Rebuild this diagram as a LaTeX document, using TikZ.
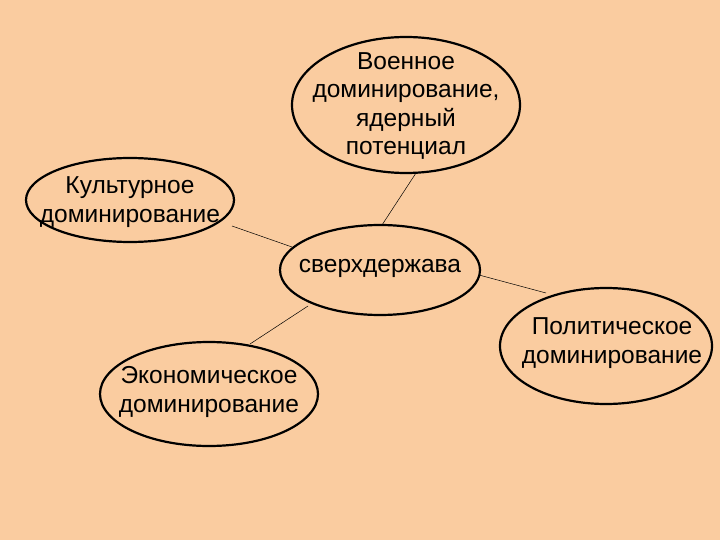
\documentclass[tikz,border=0pt]{standalone}
\usepackage{fontspec}
\setmainfont{Liberation Sans}
\usetikzlibrary{shapes.geometric}
\definecolor{bg}{RGB}{250,204,160}
\begin{document}
\begin{tikzpicture}[x=1pt,y=-1pt,
  el/.style={ellipse,draw=black,line width=2.2pt,minimum width=#1},
  tx/.style={align=center,font=\fontsize{24.5}{28.5}\selectfont,inner sep=0pt},
  link/.style={draw=black,line width=0.5pt}]
\fill[bg] (0,0) rectangle (720,540);
\useasboundingbox (0,0) rectangle (720,540);
\node[el=228,minimum height=136] (mil) at (406,105) {};
\node[tx] (milt) at (406,106) {Военное\\доминирование,\\ядерный\\потенциал};
\node[el=208,minimum height=84] (cul) at (130,200) {};
\node[tx] (cult) at (130,202) {Культурное\\доминирование};
\node[el=200,minimum height=90] (sup) at (380,270) {};
\node[tx] (supt) at (380,268) {сверхдержава};
\node[el=218,minimum height=104] (eco) at (209,394) {};
\node[tx] (ecot) at (209,392) {Экономическое\\доминирование};
\node[el=212,minimum height=116] (pol) at (606,346) {};
\node[tx] (polt) at (612,343) {Политическое\\доминирование};
\coordinate (m1) at (416,173);
\coordinate (s1) at (382,225);
\coordinate (c1) at (232,226);
\coordinate (s2) at (292,247);
\coordinate (s3) at (308,306);
\coordinate (e1) at (250,344);
\coordinate (s4) at (479,275);
\coordinate (p1) at (546,293);
\draw[link] (m1) -- (s1);
\draw[link] (c1) -- (s2);
\draw[link] (s3) -- (e1);
\draw[link] (s4) -- (p1);
\end{tikzpicture}
\end{document}
